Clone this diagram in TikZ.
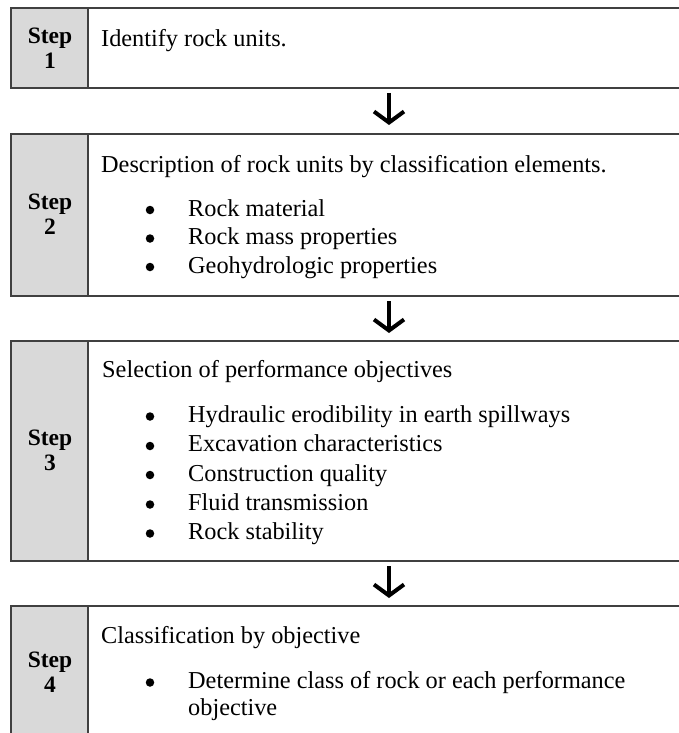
\documentclass[tikz,border=0pt]{standalone}
\usepackage{fontspec}
\setmainfont{Liberation Serif}
\usetikzlibrary{arrows.meta}
\begin{document}
\begin{tikzpicture}[x=1pt,y=-1pt,
  frame/.style={draw=black!75, line width=1.6pt},
  txt/.style={anchor=base west, inner sep=0pt, font=\fontsize{24.3}{28}\selectfont},
  bul/.style={circle, fill=black, inner sep=0pt, minimum size=8.5pt},
  steplbl/.style={align=center, inner sep=0pt, font=\fontsize{23.5}{25}\selectfont\bfseries},
  flow/.style={line width=4pt, -{Straight Barb[length=11pt, width=30pt, line width=4pt]}}
]
\useasboundingbox (0,0) rectangle (679,733);
% ---------- Box 1
\fill[black!15] (11,8) rectangle (88,88);
\draw[frame] (11,8) rectangle (720,88);
\draw[frame] (88,8) -- (88,88);
\node[steplbl] (s1) at (50,48) {Step\\1};
\node[txt] (t1) at (101,47) {Identify rock units.};
% ---------- Box 2
\fill[black!15] (11,134) rectangle (88,296);
\draw[frame] (11,134) rectangle (720,296);
\draw[frame] (88,134) -- (88,296);
\node[steplbl] (s2) at (50,214) {Step\\2};
\node[txt] (t2) at (101,172) {Description of rock units by classification elements.};
\node[bul] (b21) at (150,210) {};
\node[txt] (t21) at (188,216) {Rock material};
\node[bul] (b22) at (150,238.5) {};
\node[txt] (t22) at (188,244.5) {Rock mass properties};
\node[bul] (b23) at (150,267) {};
\node[txt] (t23) at (188,273) {Geohydrologic properties};
% ---------- Box 3
\fill[black!15] (11,341) rectangle (88,561);
\draw[frame] (11,341) rectangle (720,561);
\draw[frame] (88,341) -- (88,561);
\node[steplbl] (s3) at (50,450) {Step\\3};
\node[txt] (t3) at (102,377) {Selection of performance objectives};
\node[bul] (b31) at (150,416.5) {};
\node[txt] (t31) at (188,422) {Hydraulic erodibility in earth spillways};
\node[bul] (b32) at (150,446) {};
\node[txt] (t32) at (188,451.5) {Excavation characteristics};
\node[bul] (b33) at (150,475) {};
\node[txt] (t33) at (188,481) {Construction quality};
\node[bul] (b34) at (150,504.5) {};
\node[txt] (t34) at (188,510) {Fluid transmission};
\node[bul] (b35) at (150,533.5) {};
\node[txt] (t35) at (188,539) {Rock stability};
% ---------- Box 4
\fill[black!15] (11,606) rectangle (88,740);
\draw[frame] (11,606) rectangle (720,740);
\draw[frame] (88,606) -- (88,740);
\node[steplbl] (s4) at (50,672) {Step\\4};
\node[txt] (t4) at (101,643) {Classification by objective};
\node[bul] (b41) at (150,682.5) {};
\node[txt] (t41) at (188,688) {Determine class of rock or each performance};
\node[txt] (t42) at (188,715) {objective};
% ---------- Arrows
\coordinate (a1s) at (389,93);
\coordinate (a1e) at (389,125);
\coordinate (a2s) at (389,301);
\coordinate (a2e) at (389,333);
\coordinate (a3s) at (389,566);
\coordinate (a3e) at (389,598);
\draw[flow] (a1s) -- (a1e);
\draw[flow] (a2s) -- (a2e);
\draw[flow] (a3s) -- (a3e);
\end{tikzpicture}
\end{document}
